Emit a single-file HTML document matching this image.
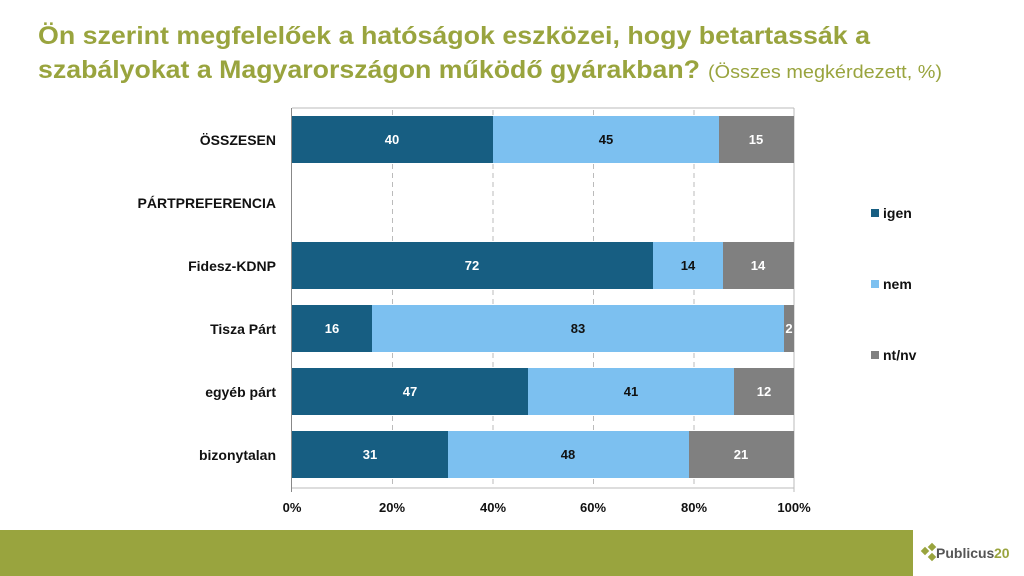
<!DOCTYPE html>
<html><head><meta charset="utf-8"><style>
html,body{margin:0;padding:0;background:#fff;width:1024px;height:576px;overflow:hidden}
svg{display:block;font-family:"Liberation Sans",sans-serif}
</style></head><body>
<svg width="1024" height="576" viewBox="0 0 1024 576">
<text x="38" y="44" font-size="25" font-weight="bold" fill="#99a43e" textLength="832" lengthAdjust="spacingAndGlyphs">Ön szerint megfelelőek a hatóságok eszközei, hogy betartassák a</text>
<text x="38" y="78" font-size="25" font-weight="bold" fill="#99a43e" textLength="662" lengthAdjust="spacingAndGlyphs">szabályokat a Magyarországon működő gyárakban?</text>
<text x="708" y="78" font-size="18" fill="#99a43e" textLength="234" lengthAdjust="spacingAndGlyphs">(Összes megkérdezett, %)</text>
<g stroke="#bbb" stroke-dasharray="5,4" stroke-width="1">
<line x1="392.5" y1="110" x2="392.5" y2="488"/><line x1="493" y1="110" x2="493" y2="488"/>
<line x1="593.5" y1="110" x2="593.5" y2="488"/><line x1="694" y1="110" x2="694" y2="488"/>
</g>
<g stroke="#bbb" stroke-width="1">
<line x1="292" y1="108" x2="794" y2="108"/>
<line x1="292" y1="488" x2="794" y2="488"/>
<line x1="794" y1="108" x2="794" y2="492"/>
</g>
<line x1="291.5" y1="108" x2="291.5" y2="492" stroke="#888"/>
<g font-size="13" font-weight="bold" fill="#fff" text-anchor="middle">
<rect x="292" y="116" width="201" height="47" fill="#175e82"/><rect x="493" y="116" width="226" height="47" fill="#7cc0f0"/><rect x="719" y="116" width="75" height="47" fill="#808080"/>
<text x="392" y="144">40</text><text x="606" y="144" fill="#111">45</text><text x="756" y="144">15</text>
<rect x="292" y="242" width="361" height="47" fill="#175e82"/><rect x="653" y="242" width="70" height="47" fill="#7cc0f0"/><rect x="723" y="242" width="71" height="47" fill="#808080"/>
<text x="472" y="270">72</text><text x="688" y="270" fill="#111">14</text><text x="758" y="270">14</text>
<rect x="292" y="305" width="80" height="47" fill="#175e82"/><rect x="372" y="305" width="412" height="47" fill="#7cc0f0"/><rect x="784" y="305" width="10" height="47" fill="#808080"/>
<text x="332" y="333">16</text><text x="578" y="333" fill="#111">83</text><text x="789" y="333">2</text>
<rect x="292" y="368" width="236" height="47" fill="#175e82"/><rect x="528" y="368" width="206" height="47" fill="#7cc0f0"/><rect x="734" y="368" width="60" height="47" fill="#808080"/>
<text x="410" y="396">47</text><text x="631" y="396" fill="#111">41</text><text x="764" y="396">12</text>
<rect x="292" y="431" width="156" height="47" fill="#175e82"/><rect x="448" y="431" width="241" height="47" fill="#7cc0f0"/><rect x="689" y="431" width="105" height="47" fill="#808080"/>
<text x="370" y="459">31</text><text x="568" y="459" fill="#111">48</text><text x="741" y="459">21</text>
</g>
<g font-size="14" font-weight="bold" fill="#111" text-anchor="end">
<text x="276" y="145">ÖSSZESEN</text><text x="276" y="208">PÁRTPREFERENCIA</text>
<text x="276" y="271">Fidesz-KDNP</text><text x="276" y="334">Tisza Párt</text>
<text x="276" y="397">egyéb párt</text><text x="276" y="460">bizonytalan</text>
</g>
<g font-size="13" font-weight="bold" fill="#111" text-anchor="middle">
<text x="292" y="512">0%</text><text x="392" y="512">20%</text><text x="493" y="512">40%</text><text x="593" y="512">60%</text><text x="694" y="512">80%</text><text x="794" y="512">100%</text>
</g>
<g font-size="14" font-weight="bold" fill="#111">
<rect x="871" y="209" width="8" height="8" fill="#175e82"/><text x="883" y="218">igen</text>
<rect x="871" y="280" width="8" height="8" fill="#7cc0f0"/><text x="883" y="289">nem</text>
<rect x="871" y="351" width="8" height="8" fill="#808080"/><text x="883" y="360">nt/nv</text>
</g>
<rect x="0" y="530" width="913" height="46" fill="#99a43e"/>
<g fill="#99a43e"><rect x="922" y="548" width="6" height="6" transform="rotate(45 925 551)"/><rect x="929" y="544" width="6" height="6" transform="rotate(45 932 547)"/><rect x="929" y="554" width="6" height="6" transform="rotate(45 932 557)"/></g>
<text x="936" y="558" font-size="14" font-weight="bold" fill="#555">Publicus</text>
<text x="994" y="558" font-size="14" font-weight="bold" fill="#99a43e">20</text>
</svg>
</body></html>
